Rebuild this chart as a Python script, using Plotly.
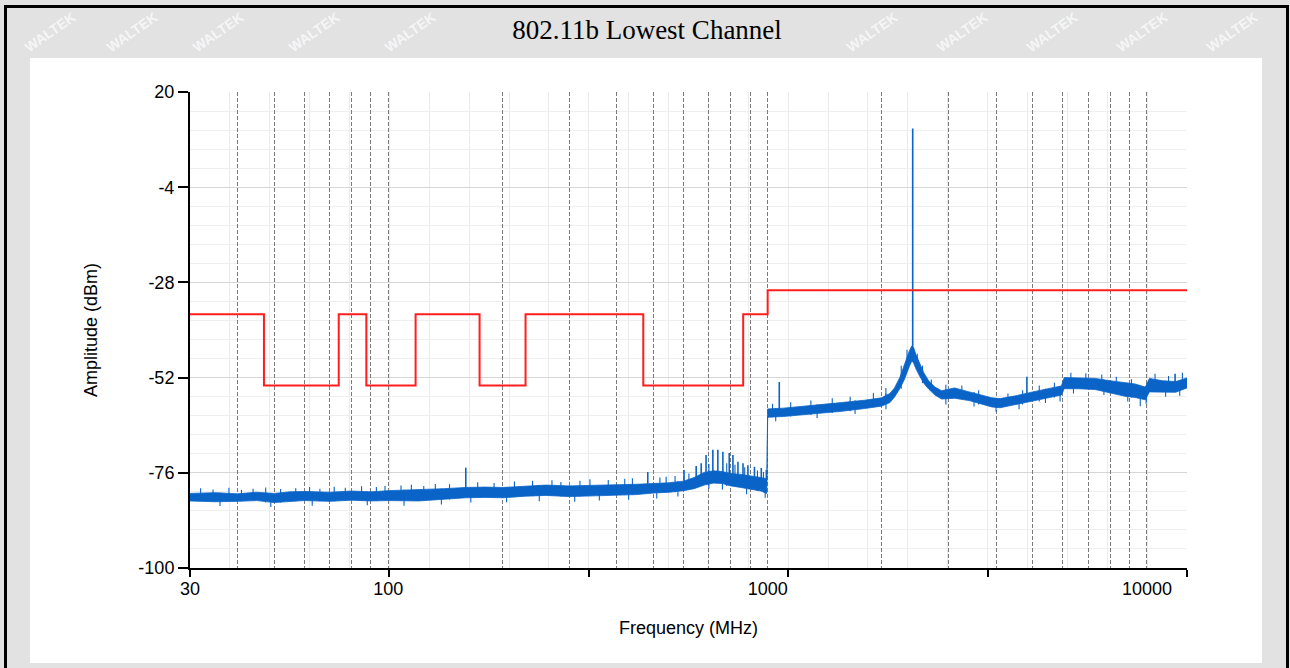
import math
import plotly.graph_objects as go

# ---------------- text ----------------
TITLE = "802.11b Lowest Channel"
X_TITLE = "Frequency (MHz)"
Y_TITLE = "Amplitude (dBm)"
WATERMARK = "WALTEK"

# ---------------- axes ----------------
F_MIN, F_MAX = 30, 12750
Y_MIN, Y_MAX = -100, 20
y_tick_vals = [-100, -76, -52, -28, -4, 20]
y_tick_text = ["-100", "-76", "-52", "-28", "-4", "20"]
x_label_vals = [30, 100, 1000, 10000]
dashed_freqs = [40, 50, 60, 70, 80, 90, 100, 200, 300, 400, 500, 600, 700, 800, 900, 1000,
                2000, 3000, 4000, 5000, 6000, 7000, 8000, 9000, 10000]

# ---------------- limit line (dBm) ----------------
limit_f = [30, 47, 74, 87.5, 118, 174, 230, 470, 862, 1000, 12750]
limit_db = [-36, -54, -36, -54, -36, -54, -36, -54, -36, -30, -30]

# ---------------- measured trace: noise band (upper / lower edge) ----------------
band_f = [30, 35, 40, 45, 50, 55, 60, 70, 80, 90, 100, 120, 140, 160, 180, 200, 230, 260, 300,
          350, 400, 450, 500, 550, 600, 640, 680, 720, 760, 800, 850, 900, 960, 995,
          1000, 1100, 1227, 1400, 1565, 1800, 1995, 2100, 2160, 2230, 2295, 2365, 2400, 2425,
          2460, 2515, 2580, 2657, 2760, 2875, 3110, 3400, 3700, 3900, 4100, 4500, 5000, 5500,
          5950, 6050, 6600, 7300, 8000, 8750, 9300, 9900, 10150, 11000, 11900, 12750]
band_hi = [-81.2, -81.0, -81.3, -80.9, -81.2, -80.8, -80.7, -80.9, -80.6, -80.8, -80.5, -80.3,
           -80.0, -79.7, -79.6, -79.7, -79.3, -79.1, -79.3, -79.2, -79.0, -78.9, -78.7, -78.5,
           -78.1, -77.2, -75.9, -75.5, -75.7, -76.2, -76.4, -76.7, -77.2, -77.5,
           -59.9, -59.7, -59.3, -58.8, -58.3, -57.7, -57.1, -56.0, -54.6, -52.0, -48.5, -45.2,
           -44.0, -44.4, -46.2, -48.5, -50.8, -52.8, -54.4, -55.3, -54.6, -55.6, -56.6, -57.1,
           -57.3, -56.6, -55.6, -54.8, -54.1, -52.0, -52.1, -52.2, -52.8, -53.3, -53.6, -54.4,
           -52.2, -52.8, -53.0, -52.1]
band_lo = [-83.1, -83.3, -83.2, -83.0, -83.5, -83.2, -83.0, -83.2, -82.9, -83.1, -83.0, -83.1,
           -82.7, -82.3, -82.2, -82.3, -81.9, -81.7, -82.0, -81.8, -81.6, -81.5, -81.1, -80.9,
           -80.5, -80.0, -79.1, -78.6, -78.7, -79.3, -79.7, -80.1, -80.6, -81.2,
           -62.0, -61.8, -61.4, -60.9, -60.5, -59.8, -59.2, -58.3, -56.9, -54.8, -52.4, -49.1,
           -47.8, -48.3, -49.8, -51.6, -53.4, -54.9, -56.4, -57.4, -57.2, -57.8, -58.8, -59.4,
           -59.6, -58.8, -58.0, -57.0, -56.4, -54.8, -54.8, -55.0, -55.8, -56.7, -57.0, -57.6,
           -55.6, -55.6, -55.7, -54.6]

# ---------------- measured trace: spikes (freq, base, top) ----------------
spike_f = [160, 483, 602, 648, 668, 688, 717, 739, 762, 792, 810, 835, 861, 887, 923, 962, 992,
           1073, 2412, 4824, 11860]
spike_base = [-80.0, -79.5, -79.0, -78.5, -78.0, -77.5, -77.0, -77.0, -77.0, -77.0, -77.0, -77.5,
              -77.5, -78.0, -78.0, -78.5, -79.0, -60.5, -45.0, -57.0, -54.0]
spike_top = [-74.7, -75.8, -75.3, -74.3, -73.6, -71.5, -70.2, -70.2, -70.7, -71.0, -71.5, -73.2,
             -73.6, -74.1, -74.5, -74.8, -75.3, -53.1, 10.8, -51.8, -51.0]

# ---------------- measured trace: small noise peaks above / dips below the band ----------------
tip_up_f = [32, 34.5, 38, 41, 44, 47.5, 52, 57, 62, 66, 72, 77, 85, 93, 98, 108, 115, 124, 133,
            145, 172, 190, 215, 240, 270, 285, 320, 340, 380, 420, 440, 520, 540, 570, 620, 700,
            780, 820, 870, 940, 975,
            1030, 1150, 1300, 1480, 1650, 1900, 2050, 2250, 2330, 2480, 2560, 2700, 2950, 3250,
            3600, 4300, 4700, 5200, 5700, 6300, 6900, 7600, 8300, 9100, 10500, 11400, 12400]
tip_up_db = [-79.9, -80.2, -79.8, -80.3, -80.0, -79.7, -80.1, -79.9, -79.6, -80.0, -79.5, -79.8,
             -79.4, -79.6, -79.3, -79.2, -79.0, -79.3, -78.8, -78.9, -78.4, -78.6, -78.2, -78.0,
             -77.9, -78.3, -78.0, -77.6, -77.8, -77.5, -77.4, -77.2, -77.0, -76.8, -76.2, -73.8,
             -73.6, -74.0, -74.6, -75.4, -75.8,
             -58.6, -58.2, -57.8, -57.2, -56.8, -55.9, -54.6, -49.0, -45.0, -46.0, -49.0, -52.5,
             -53.8, -54.0, -55.2, -56.0, -55.2, -54.0, -53.3, -50.8, -50.9, -51.2, -51.8, -52.4,
             -51.0, -51.6, -50.8]
tip_dn_f = [36, 49, 63, 88, 110, 138, 165, 205, 250, 310, 360, 430, 510, 580, 700, 760, 880, 985,
            1050, 1350, 1700, 2050, 2950, 3500, 4000, 4600, 5400, 5900, 6400, 7700, 8900, 9600,
            9950, 11200, 12200]
tip_dn_db = [-84.4, -84.6, -84.3, -84.2, -84.3, -84.0, -83.5, -83.4, -83.2, -83.3, -83.0, -82.8,
             -82.5, -82.0, -80.0, -80.2, -81.4, -82.3,
             -63.0, -62.2, -61.2, -60.0, -58.8, -59.3, -60.6, -60.0, -58.4, -58.0, -56.0, -56.4,
             -58.0, -59.2, -58.6, -56.8, -56.6]

# ---------------- watermark positions (page pixels) ----------------
wm_x = [50, 132, 218, 314, 410, 872, 962, 1052, 1142, 1232]
wm_y = [32, 32, 32, 32, 32, 32, 32, 32, 32, 32]

BLUE = "#0a64c8"
RED = "#ff1e1e"
SANS = "Liberation Sans, Arial, sans-serif"
SERIF = "Liberation Serif, Times New Roman, serif"

# page geometry (pixels)
W, H = 1290, 668
PL, PR, PT, PB = 190, 1187, 92, 568


def px(x):
    return (x - PL) / (PR - PL)


def py(y):
    return (PB - y) / (PB - PT)


def band_at(f, fs, vs):
    # band value at the nearest listed frequency (no new points are created)
    best = min(range(len(fs)), key=lambda i: abs(math.log10(fs[i]) - math.log10(f)))
    return vs[best]


fig = go.Figure()

fig.add_trace(go.Scatter(x=band_f, y=band_lo, mode="lines",
                         line=dict(color=BLUE, width=0.8), hoverinfo="skip"))
fig.add_trace(go.Scatter(x=band_f, y=band_hi, mode="lines",
                         line=dict(color=BLUE, width=0.8), fill="tonexty",
                         fillcolor=BLUE, hoverinfo="skip"))

# small noise tips
tx, ty = [], []
for f, t in zip(tip_up_f, tip_up_db):
    tx += [f, f, None]
    ty += [band_at(f, band_f, band_lo), t, None]
for f, t in zip(tip_dn_f, tip_dn_db):
    tx += [f, f, None]
    ty += [band_at(f, band_f, band_hi), t, None]
fig.add_trace(go.Scatter(x=tx, y=ty, mode="lines", line=dict(color=BLUE, width=1.1),
                         hoverinfo="skip"))

sx, sy = [], []
for f, b, t in zip(spike_f, spike_base, spike_top):
    sx += [f, f, None]
    sy += [b, t, None]
fig.add_trace(go.Scatter(x=sx, y=sy, mode="lines", line=dict(color=BLUE, width=1.6),
                         hoverinfo="skip"))

fig.add_trace(go.Scatter(x=limit_f, y=limit_db, mode="lines", xaxis="x2",
                         line=dict(color=RED, width=2, shape="hv"), hoverinfo="skip"))

lo, hi = math.log10(F_MIN), math.log10(F_MAX)
span = hi - lo

x2_vals = [F_MIN] + dashed_freqs
x2_text = [str(v) if v in x_label_vals else "" for v in x2_vals]

annotations = [
    dict(text="<b>" + WATERMARK + "</b>", xref="paper", yref="paper", x=px(x), y=py(y),
         showarrow=False, textangle=-35, xanchor="center", yanchor="middle",
         font=dict(family=SANS, size=14, color="rgba(255,255,255,0.7)"))
    for x, y in zip(wm_x, wm_y)
]

fig.update_layout(
    width=W, height=H,
    margin=dict(l=PL, r=W - PR, t=PT, b=H - PB, pad=0),
    paper_bgcolor="#e2e2e2",
    plot_bgcolor="white",
    showlegend=False,
    title=dict(text=TITLE, x=px(647), xanchor="center", xref="paper",
               y=1 - 30 / H, yanchor="middle", yref="container",
               font=dict(family=SERIF, size=27, color="black")),
    xaxis=dict(
        type="log", range=[lo, hi], tickmode="linear", tick0=lo, dtick=span / 5,
        showticklabels=False, ticks="outside", ticklen=7, tickwidth=1.5, tickcolor="black",
        showline=True, linecolor="black", linewidth=2, zeroline=False,
        showgrid=True, gridcolor="#ebebeb", gridwidth=1,
        minor=dict(tickmode="linear", tick0=lo, dtick=span / 25, showgrid=True,
                   gridcolor="#ebebeb", gridwidth=1, ticks=""),
    ),
    xaxis2=dict(
        type="log", range=[lo, hi], overlaying="x", anchor="y", side="bottom",
        tickmode="array", tickvals=x2_vals, ticktext=x2_text, ticks="",
        showline=False, zeroline=False,
        showgrid=True, griddash="4px,2px", gridcolor="#7a7a7a", gridwidth=1,
        ticklabelstandoff=8,
        tickfont=dict(family=SANS, size=18, color="black"),
        title=dict(text=X_TITLE, standoff=23, font=dict(family=SANS, size=18, color="black")),
    ),
    yaxis=dict(
        range=[Y_MIN, Y_MAX], tickmode="array", tickvals=y_tick_vals, ticktext=y_tick_text,
        ticks="outside", ticklen=10, tickwidth=1.5, tickcolor="black",
        showline=True, linecolor="black", linewidth=2, zeroline=False,
        showgrid=True, gridcolor="#d6d6d6", gridwidth=1,
        minor=dict(tickmode="linear", tick0=Y_MIN, dtick=4.8, showgrid=True,
                   gridcolor="#efefef", gridwidth=1, ticks=""),
        tickfont=dict(family=SANS, size=18, color="black"),
        title=dict(text=Y_TITLE, standoff=36, font=dict(family=SANS, size=18, color="black")),
    ),
    annotations=annotations,
    shapes=[
        dict(type="rect", xref="paper", yref="paper", layer="below",
             x0=px(30), x1=px(1262), y0=py(663), y1=py(58),
             fillcolor="white", line=dict(width=0)),
        dict(type="rect", xref="paper", yref="paper", layer="above",
             x0=px(5.5), x1=px(1287.5), y0=py(720), y1=py(6.5),
             fillcolor="rgba(0,0,0,0)", line=dict(color="black", width=3)),
    ],
)

fig.write_html("out.html", config={"displayModeBar": False},
               post_script="document.body.style.margin='0';document.body.style.overflow='hidden';")
